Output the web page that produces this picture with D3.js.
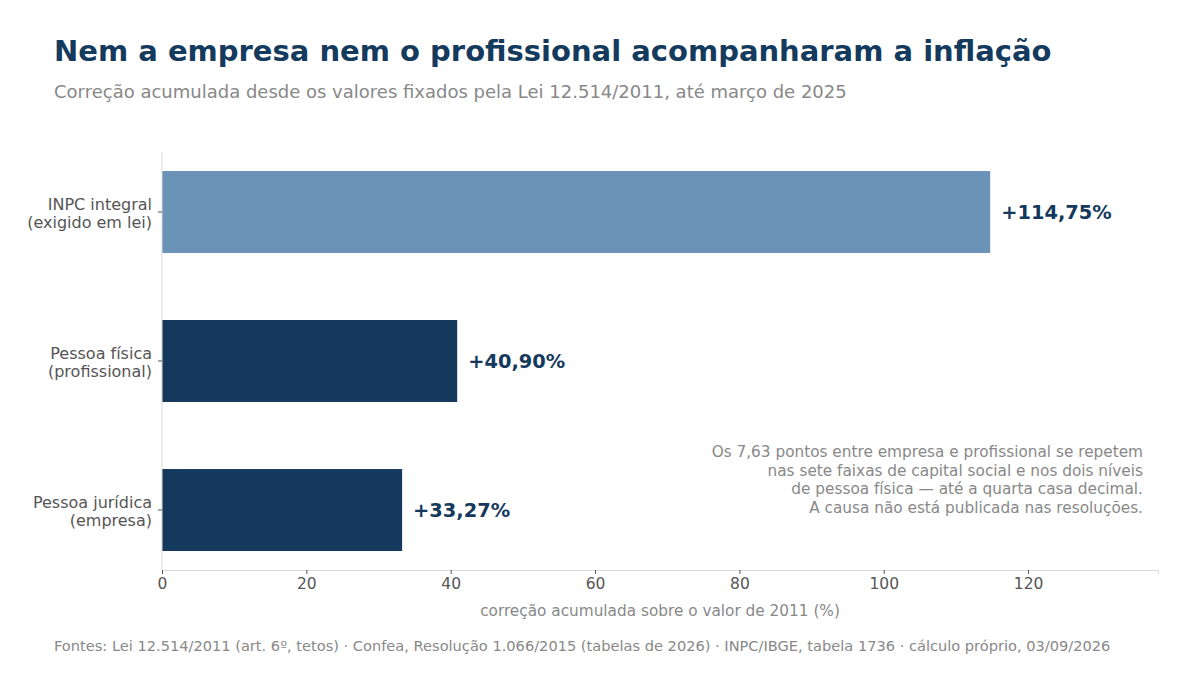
<!DOCTYPE html>
<html lang="pt">
<head>
  <meta charset="UTF-8">
  <script src="https://cdn.jsdelivr.net/npm/d3@7"></script>
  <title>Correção acumulada</title>
  <style>
    body { margin: 0; background: #fff; }
    svg { font-family: "DejaVu Sans", sans-serif; }
  </style>
</head>
<body>
  <svg width="1200" height="675"></svg>
  <script>
    // dados
    var categorias = [
      ["INPC integral", "(exigido em lei)"],
      ["Pessoa física", "(profissional)"],
      ["Pessoa jurídica", "(empresa)"]
    ];
    var valores = [114.75, 40.90, 33.27];
    var rotulos = ["+114,75%", "+40,90%", "+33,27%"];
    var cores = ["#6b93b8", "#14395d", "#14395d"];
    var ticksX = [0, 20, 40, 60, 80, 100, 120];
    var nota = [
      "Os 7,63 pontos entre empresa e profissional se repetem",
      "nas sete faixas de capital social e nos dois níveis",
      "de pessoa física — até a quarta casa decimal.",
      "A causa não está publicada nas resoluções."
    ];

    var svg = d3.select("svg");
    var plot = {left: 162, right: 1158, top: 152, bottom: 570};

    // títulos
    svg.append("text").attr("x", 54).attr("y", 61)
      .attr("font-size", 29).attr("font-weight", "bold").attr("fill", "#143a5e")
      .text("Nem a empresa nem o profissional acompanharam a inflação");
    svg.append("text").attr("x", 54).attr("y", 98)
      .attr("font-size", 18).attr("fill", "#888")
      .text("Correção acumulada desde os valores fixados pela Lei 12.514/2011, até março de 2025");

    // escalas
    var x = d3.scaleLinear().domain([0, 138]).range([plot.left, plot.right]);
    var y = d3.scaleBand().domain(d3.range(categorias.length))
      .range([plot.top, plot.bottom]).paddingInner(0.45).paddingOuter(0.1275);

    // barras
    svg.selectAll(".bar").data(valores).enter().append("rect")
      .attr("x", x(0))
      .attr("y", function(d, i){ return y(i) })
      .attr("width", function(d){ return x(d) - x(0) })
      .attr("height", y.bandwidth())
      .attr("fill", function(d, i){ return cores[i] });

    svg.selectAll(".rotulo").data(valores).enter().append("text")
      .attr("x", function(d){ return x(d) + 11 })
      .attr("y", function(d, i){ return y(i) + y.bandwidth() / 2 + 7 })
      .attr("font-size", 19.4).attr("font-weight", "bold").attr("fill", "#14395d")
      .text(function(d, i){ return rotulos[i] });

    // eixo x
    var eixoX = svg.append("g").attr("transform", "translate(0," + plot.bottom + ")")
      .call(d3.axisBottom(x).tickValues(ticksX).tickSize(4).tickPadding(4));
    eixoX.select(".domain").attr("stroke", "#d9d9d9");
    eixoX.selectAll(".tick line").attr("stroke", "#555");
    eixoX.selectAll(".tick text").attr("font-size", 15.5).attr("fill", "#555")
      .attr("font-family", "DejaVu Sans");
    svg.append("text").attr("x", (plot.left + plot.right) / 2).attr("y", 616)
      .attr("text-anchor", "middle").attr("font-size", 15.3).attr("fill", "#888")
      .text("correção acumulada sobre o valor de 2011 (%)");

    // eixo y
    svg.append("line").attr("x1", plot.left).attr("x2", plot.left)
      .attr("y1", plot.top).attr("y2", plot.bottom).attr("stroke", "#d9d9d9");
    var gy = svg.selectAll(".cat").data(categorias).enter().append("g")
      .attr("transform", function(d, i){ return "translate(0," + (y(i) + y.bandwidth() / 2) + ")" });
    gy.append("line").attr("x1", plot.left - 4).attr("x2", plot.left).attr("stroke", "#555");
    gy.append("text").attr("text-anchor", "end").attr("font-size", 16).attr("fill", "#555")
      .selectAll("tspan").data(function(d){ return d }).enter().append("tspan")
      .attr("x", plot.left - 10)
      .attr("y", function(d, j){ return j === 0 ? -2 : 16 })
      .text(function(d){ return d });

    // nota
    svg.append("text").attr("text-anchor", "end").attr("font-size", 15.3).attr("fill", "#888")
      .selectAll("tspan").data(nota).enter().append("tspan")
      .attr("x", 1143).attr("y", function(d, i){ return 457 + i * 18.7 })
      .text(function(d){ return d });

    // fonte
    svg.append("text").attr("x", 54).attr("y", 651)
      .attr("font-size", 14.6).attr("fill", "#888")
      .text("Fontes: Lei 12.514/2011 (art. 6º, tetos) · Confea, Resolução 1.066/2015 (tabelas de 2026) · INPC/IBGE, tabela 1736 · cálculo próprio, 03/09/2026");
  </script>
</body>
</html>
